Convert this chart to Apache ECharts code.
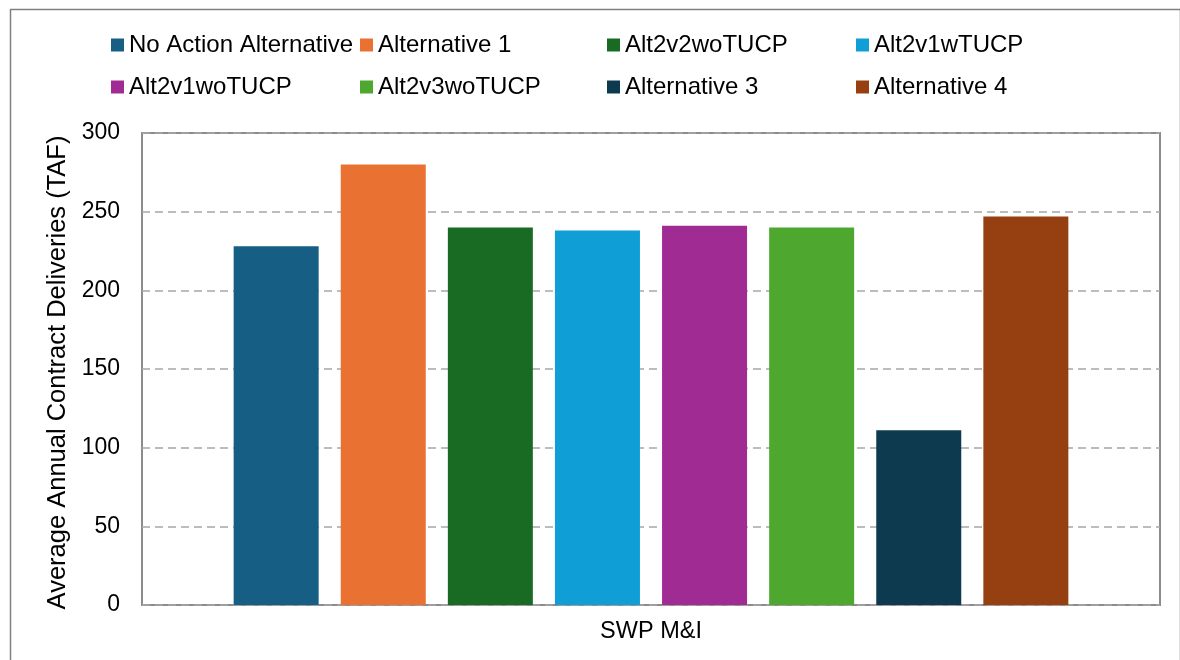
<!DOCTYPE html>
<html>
<head>
<meta charset="utf-8">
<title>SWP M&amp;I Average Annual Contract Deliveries</title>
<script src="https://cdn.jsdelivr.net/npm/echarts@6/dist/echarts.min.js"></script>
<style>
  html, body { margin: 0; padding: 0; background: #ffffff; }
  #chart { width: 1180px; height: 660px; }
</style>
</head>
<body>
<div id="chart"></div>
<script>
// Category and alternatives
const categories = ['SWP M&I'];
const seriesNames = [
  'No Action Alternative', 'Alternative 1', 'Alt2v2woTUCP', 'Alt2v1wTUCP',
  'Alt2v1woTUCP', 'Alt2v3woTUCP', 'Alternative 3', 'Alternative 4'
];
// Average annual contract deliveries (TAF), one value per alternative
const deliveries = [228, 280, 240, 238, 241, 240, 111, 247];
const seriesColors = [
  '#165E83', '#E97132', '#196B24', '#0F9ED5',
  '#A02B93', '#4EA72E', '#0E3A4F', '#963F10'
];
// Y axis range and step
const yMin = 0, yMax = 300, yStep = 50;

const FONT = 'Liberation Sans, Arial, sans-serif';

const chart = echarts.init(document.getElementById('chart'), null, { renderer: 'canvas' });

// Legend laid out as 4 columns x 2 rows
const columnLeft = [111, 360, 607, 856];
const legends = columnLeft.map((left, c) => ({
  left: left,
  top: 33,
  padding: 0,
  orient: 'vertical',
  itemWidth: 13,
  itemHeight: 13,
  itemGap: 18,
  icon: 'rect',
  selectedMode: false,
  data: [seriesNames[c], seriesNames[c + 4]],
  textStyle: { fontFamily: FONT, fontSize: 24, color: '#000000' }
}));

const series = seriesNames.map((name, i) => ({
  name: name,
  type: 'bar',
  data: [deliveries[i]],
  barWidth: 85,
  barGap: '26%',
  itemStyle: { color: seriesColors[i] }
}));

chart.setOption({
  backgroundColor: '#ffffff',
  animation: false,
  textStyle: { fontFamily: FONT },
  legend: legends,
  grid: {
    left: 142, right: 20, top: 133, bottom: 55,
    show: true,
    borderColor: '#8c8c8c',
    borderWidth: 2,
    backgroundColor: 'transparent'
  },
  xAxis: {
    type: 'category',
    data: categories,
    axisLine: { show: false },
    axisTick: { show: false },
    axisLabel: { fontFamily: FONT, fontSize: 23.5, color: '#000000', margin: 15 }
  },
  yAxis: {
    type: 'value',
    min: yMin, max: yMax, interval: yStep,
    name: 'Average Annual Contract Deliveries (TAF)',
    nameLocation: 'middle',
    nameRotate: 90,
    nameGap: 64,
    nameTextStyle: {
      fontFamily: FONT, fontSize: 25.5, color: '#000000',
      padding: [0, 7, 0, 0]
    },
    axisLine: { show: false },
    axisTick: { show: false },
    axisLabel: { fontFamily: FONT, fontSize: 23, color: '#000000', margin: 22 },
    splitLine: {
      show: true,
      lineStyle: { color: '#a6a6a6', width: 1.5, type: [8, 5] }
    }
  },
  graphic: [{
    type: 'rect',
    left: 8, top: 7,
    shape: { width: 1170, height: 700 },
    style: { fill: 'none', stroke: '#808080', lineWidth: 1.5 },
    silent: true,
    z: -1
  }],
  series: series
});
</script>
</body>
</html>
